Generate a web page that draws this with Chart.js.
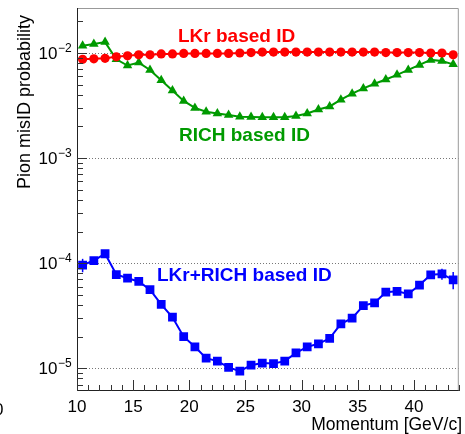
<!DOCTYPE html>
<html>
<head>
<meta charset="utf-8">
<script src="https://cdn.jsdelivr.net/npm/chart.js@4"></script>
<style>
html,body{margin:0;padding:0;background:#fff;}
#c{display:block;}
</style>
</head>
<body>
<canvas id="c" width="465" height="434"></canvas>
<script>
// ---- data ----
const momentum = [10.5,11.5,12.5,13.5,14.5,15.5,16.5,17.5,18.5,19.5,20.5,21.5,22.5,23.5,24.5,25.5,26.5,27.5,28.5,29.5,30.5,31.5,32.5,33.5,34.5,35.5,36.5,37.5,38.5,39.5,40.5,41.5,42.5,43.5];
const lkrProb = [0.0087,0.0088,0.0089,0.0092,0.0094,0.0096,0.0096,0.0098,0.0098,0.0099,0.0099,0.0099,0.0099,0.0099,0.0100,0.0101,0.0102,0.0102,0.0102,0.0102,0.0102,0.0102,0.0102,0.0102,0.0102,0.0102,0.0102,0.0101,0.0101,0.0101,0.0101,0.0100,0.0100,0.0096];
const richProb = [0.0117,0.0122,0.0127,0.0087,0.0076,0.0081,0.0069,0.0055,0.0044,0.0035,0.0030,0.00276,0.00266,0.00257,0.00247,0.00246,0.00245,0.00245,0.00245,0.00252,0.00266,0.0029,0.0031,0.0036,0.0041,0.0046,0.0051,0.0056,0.0062,0.0069,0.0077,0.0086,0.0084,0.0078];
const combProb = [9.6e-5,1.06e-4,1.23e-4,7.8e-5,7.2e-5,6.7e-5,5.6e-5,4.05e-5,3.06e-5,2.0e-5,1.6e-5,1.25e-5,1.17e-5,1.02e-5,9.4e-6,1.07e-5,1.12e-5,1.11e-5,1.17e-5,1.4e-5,1.6e-5,1.71e-5,1.93e-5,2.65e-5,3.0e-5,3.95e-5,4.2e-5,5.3e-5,5.4e-5,5.1e-5,6.2e-5,7.75e-5,7.9e-5,6.95e-5];
const combErr = [1.4e-5,0.6e-5,0.6e-5,0.4e-5,0.4e-5,0.4e-5,0.3e-5,0.2e-5,0.15e-5,0.1e-5,0.08e-5,0.06e-5,0.06e-5,0.05e-5,0.05e-5,0.05e-5,0.05e-5,0.05e-5,0.06e-5,0.07e-5,0.08e-5,0.09e-5,0.1e-5,0.13e-5,0.15e-5,0.2e-5,0.2e-5,0.3e-5,0.3e-5,0.3e-5,0.4e-5,0.6e-5,0.95e-5,1.3e-5];
const xTickLabels = [10,15,20,25,30,35,40];
const yTickValues = [1e-5,1e-4,1e-3,1e-2];
const yTickExps = ['\u22125','\u22124','\u22123','\u22122'];
const xMin = 10, xMax = 44;
const yMin = 6.08e-6, yMax = 0.0268;
const xTitle = 'Momentum [GeV/c]';
const yTitle = 'Pion misID probability';
const labelLKr = 'LKr based ID';
const labelRICH = 'RICH based ID';
const labelComb = 'LKr+RICH based ID';

const RED = '#ff0000', GREEN = '#009a00', BLUE = '#0000ff';
const FONT = '"Liberation Sans", Arial, Helvetica, sans-serif';

function pts(arr){ return momentum.map((x,i)=>({x:x,y:arr[i]})); }

const decorPlugin = {
  id:'decor',
  beforeDatasetsDraw(chart){
    const ctx = chart.ctx, a = chart.chartArea, ys = chart.scales.y, xs = chart.scales.x;
    ctx.save();
    ctx.strokeStyle = '#777';
    ctx.lineWidth = 1;
    ctx.setLineDash([1,2]);
    yTickValues.forEach(v=>{
      const y = Math.round(ys.getPixelForValue(v))+0.5;
      ctx.beginPath(); ctx.moveTo(a.left, y); ctx.lineTo(a.right, y); ctx.stroke();
    });
    ctx.setLineDash([]);
    ctx.strokeStyle = BLUE; ctx.lineWidth = 1.5;
    momentum.forEach((x,i)=>{
      const px = xs.getPixelForValue(x);
      const y1 = ys.getPixelForValue(combProb[i]+combErr[i]);
      const y2 = ys.getPixelForValue(Math.max(combProb[i]-combErr[i], 1e-9));
      ctx.beginPath(); ctx.moveTo(px,y1); ctx.lineTo(px,y2); ctx.stroke();
    });
    ctx.restore();
  },
  afterDraw(chart){
    const ctx = chart.ctx, a = chart.chartArea, ys = chart.scales.y, xs = chart.scales.x;
    ctx.save();
    ctx.lineWidth = 1;
    ctx.strokeStyle = '#999';
    ctx.beginPath();
    ctx.moveTo(a.left, a.top+0.5); ctx.lineTo(a.right-0.5, a.top+0.5); ctx.lineTo(a.right-0.5, a.bottom);
    ctx.stroke();
    ctx.strokeStyle = '#222';
    ctx.beginPath();
    ctx.moveTo(a.left+0.5, a.top); ctx.lineTo(a.left+0.5, a.bottom-0.5); ctx.lineTo(a.right, a.bottom-0.5);
    ctx.stroke();
    ctx.strokeStyle = '#333';
    for (let e=-6; e<=-1; e++){
      for (let m=1; m<=9; m++){
        const v = m*Math.pow(10,e);
        if (v < yMin || v > yMax) continue;
        const y = Math.round(ys.getPixelForValue(v))+0.5;
        const len = (m===1)?10:6;
        ctx.beginPath(); ctx.moveTo(a.left, y); ctx.lineTo(a.left+len, y); ctx.stroke();
      }
    }
    for (let x=xMin; x<=xMax; x++){
      const px = Math.round(xs.getPixelForValue(x))+0.5;
      const len = (x%5===0)?11:6;
      ctx.beginPath(); ctx.moveTo(px, a.bottom); ctx.lineTo(px, a.bottom-len); ctx.stroke();
    }
    ctx.fillStyle = '#000';
    ctx.font = '17px '+FONT;
    ctx.textAlign = 'center'; ctx.textBaseline = 'alphabetic';
    xTickLabels.forEach(v=>{
      ctx.fillText(String(v), xs.getPixelForValue(v), 412);
    });
    yTickValues.forEach((v,i)=>{
      const y = ys.getPixelForValue(v);
      ctx.font = '17px '+FONT; ctx.textAlign='right';
      ctx.fillText('10', 57.5, y+6);
      ctx.font = '12px '+FONT; ctx.textAlign='left';
      ctx.fillText(yTickExps[i], 58, y-1);
    });
    ctx.font = '17px '+FONT; ctx.textAlign='left';
    ctx.fillText('0', -6, 415);
    ctx.font = '17.5px '+FONT; ctx.textAlign='right';
    ctx.fillText(xTitle, 462, 430);
    ctx.save();
    ctx.translate(30, 102);
    ctx.rotate(-Math.PI/2);
    ctx.textAlign='center';
    ctx.font = '18px '+FONT;
    ctx.fillText(yTitle, 0, 0);
    ctx.restore();
    ctx.font = 'bold 19px '+FONT; ctx.textAlign='left'; ctx.textBaseline='alphabetic';
    ctx.fillStyle = RED;   ctx.fillText(labelLKr, 178, 42);
    ctx.fillStyle = GREEN; ctx.fillText(labelRICH, 179, 141);
    ctx.fillStyle = BLUE;  ctx.fillText(labelComb, 157, 281);
    ctx.restore();
  }
};

new Chart(document.getElementById('c'), {
  type:'line',
  data:{
    datasets:[
      {data:pts(lkrProb), borderColor:RED, backgroundColor:RED, borderWidth:2, pointStyle:'circle', pointRadius:4.6, pointBorderWidth:0, tension:0},
      {data:pts(richProb), borderColor:GREEN, backgroundColor:GREEN, borderWidth:2, pointStyle:'triangle', pointRadius:5.5, pointBorderWidth:0, tension:0},
      {data:pts(combProb), borderColor:BLUE, backgroundColor:BLUE, borderWidth:2, pointStyle:'rect', pointRadius:6.2, pointBorderWidth:0, tension:0}
    ]
  },
  options:{
    responsive:false,
    animation:false,
    events:[],
    layout:{padding:{left:77, top:8, right:3, bottom:43}},
    plugins:{legend:{display:false}, tooltip:{enabled:false}},
    scales:{
      x:{type:'linear', min:xMin, max:xMax, display:false},
      y:{type:'logarithmic', min:yMin, max:yMax, display:false}
    }
  },
  plugins:[decorPlugin]
});
</script>
</body>
</html>
